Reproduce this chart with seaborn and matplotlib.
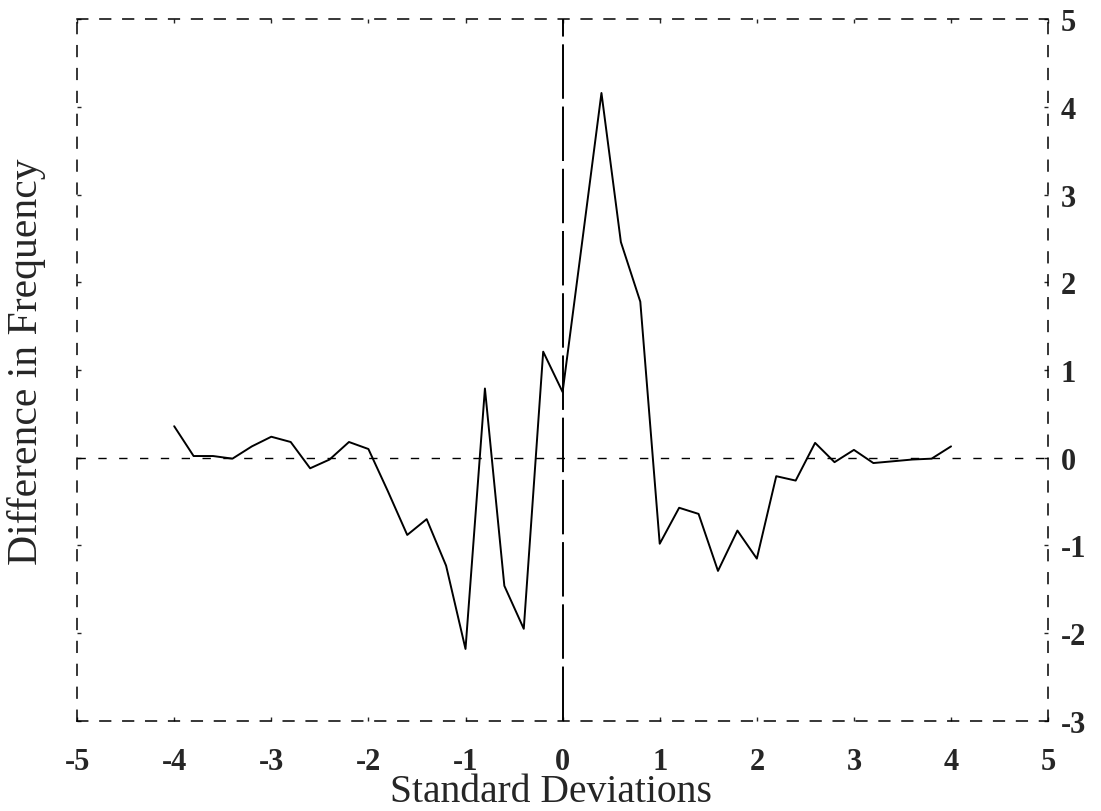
import matplotlib
matplotlib.use("Agg")
import matplotlib.pyplot as plt
import seaborn as sns
import pandas as pd

# Bin centres (standard deviations) and the frequency difference in each bin
sd_bins = [-4.0, -3.8, -3.6, -3.4, -3.2, -3.0, -2.8, -2.6, -2.4, -2.2,
           -2.0, -1.8, -1.6, -1.4, -1.2, -1.0, -0.8, -0.6, -0.4, -0.2,
           0.0, 0.2, 0.4, 0.6, 0.8, 1.0, 1.2, 1.4, 1.6, 1.8,
           2.0, 2.2, 2.4, 2.6, 2.8, 3.0, 3.2, 3.4, 3.6, 3.8, 4.0]
freq_diff = [0.36, 0.02, 0.02, -0.01, 0.13, 0.24, 0.18, -0.12, -0.02, 0.18,
             0.10, -0.38, -0.88, -0.70, -1.23, -2.18, 0.79, -1.46, -1.95, 1.21,
             0.75, 2.45, 4.16, 2.46, 1.78, -0.98, -0.57, -0.64, -1.29, -0.83,
             -1.15, -0.21, -0.26, 0.17, -0.05, 0.09, -0.06, -0.04, -0.02, -0.01, 0.13]

x_ticks = [-5, -4, -3, -2, -1, 0, 1, 2, 3, 4, 5]
y_ticks = [-3, -2, -1, 0, 1, 2, 3, 4, 5]

sns.set_style("white")
plt.rcParams["font.family"] = ["Liberation Serif", "DejaVu Serif"]

df = pd.DataFrame({"sd": sd_bins, "diff": freq_diff})

fig = plt.figure(figsize=(11.01, 8.12), dpi=100)
ax = fig.add_axes([0.070, 0.111, 0.882, 0.864])

# reference lines: zero level and the mean
ax.axhline(0, color="black", lw=1.0, ls=(0, (6, 9)), zorder=1)
ax.axvline(0, color="black", lw=1.4, ls=(0, (28, 4)), zorder=1)

sns.lineplot(data=df, x="sd", y="diff", ax=ax, color="black", lw=1.4,
             estimator=None, sort=False, zorder=3)

ax.set_xlim(-5, 5)
ax.set_ylim(-3, 5)
ax.set_xticks(x_ticks)
ax.set_yticks(y_ticks)
ax.set_xticklabels([str(t) for t in x_ticks], fontsize=22, fontweight="bold")
ax.set_yticklabels([str(t) for t in y_ticks], fontsize=22, fontweight="bold")

ax.yaxis.tick_right()
ax.yaxis.set_label_position("left")
ax.tick_params(axis="x", direction="in", length=3, width=1.0, pad=19,
               top=True, bottom=True)
ax.tick_params(axis="y", direction="in", length=3, width=1.0, pad=9,
               left=True, right=True)

for side, spine in ax.spines.items():
    spine.set_visible(True)
    spine.set_color("black")
    spine.set_linewidth(1.1)
    spine.set_linestyle((0, (7, 8)))

ax.set_xlabel("Standard Deviations", fontsize=28.5)
ax.set_ylabel("Difference in Frequency", fontsize=30)
ax.xaxis.set_label_coords(0.488, -0.075)
ax.yaxis.set_label_coords(-0.032, 0.513)

fig.savefig("out.png", dpi=100, facecolor="white")
